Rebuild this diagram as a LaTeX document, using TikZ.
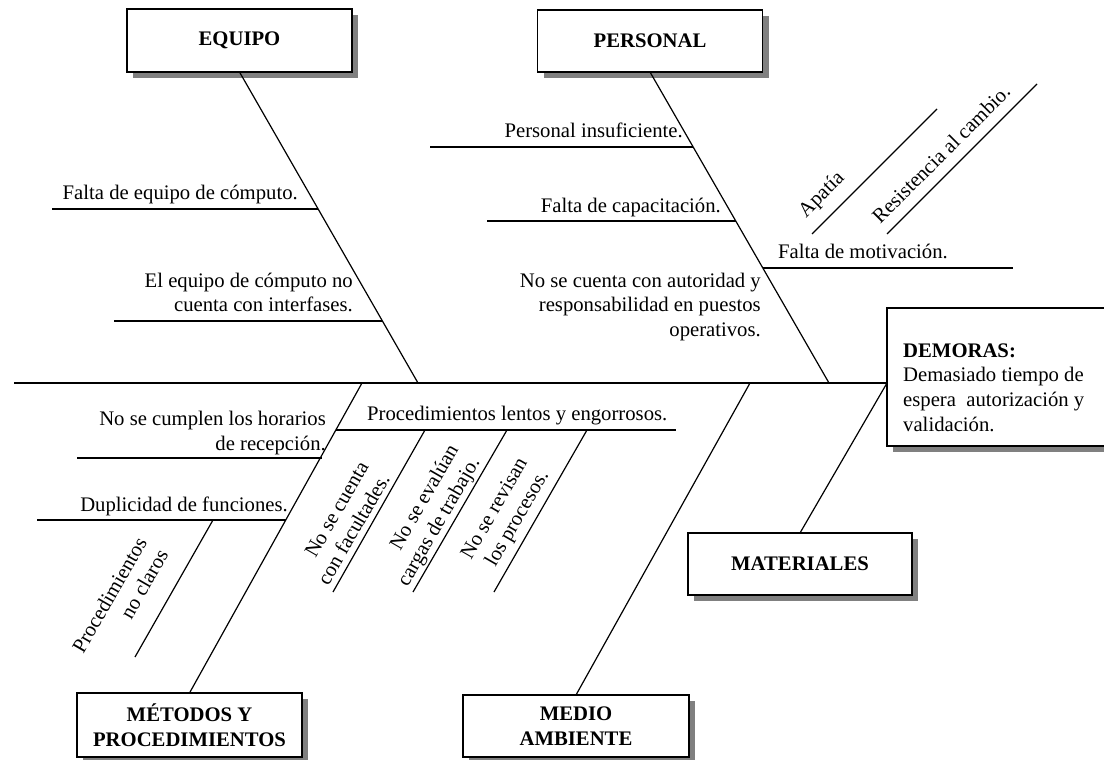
\documentclass[tikz,border=0pt]{standalone}
\usepackage{fontspec}
\setmainfont{Liberation Serif}
\usetikzlibrary{shadows}
\begin{document}
\begin{tikzpicture}[x=1pt,y=-1pt,
  font=\fontsize{20.7}{24.6}\selectfont,
  bone/.style={line width=1.2pt},
  spine/.style={line width=1.6pt},
  catbox/.style={draw, line width=1.5pt, fill=white, minimum width=225,
    outer sep=0pt, inner sep=0pt, font=\fontsize{20.7}{24.6}\selectfont\bfseries,
    align=center,
    general shadow={fill=black!50, shadow xshift=6pt, shadow yshift=-6pt}},
  effectbox/.style={draw, line width=1.5pt, fill=white, anchor=north west,
    minimum width=232, minimum height=138, outer sep=0pt, inner sep=0pt,
    general shadow={fill=black!50, shadow xshift=6pt, shadow yshift=-6pt}},
  cause/.style={inner sep=0pt}]

\useasboundingbox (0,0) rectangle (1104,760);
\clip (0,0) rectangle (1104,760);

% ---- category boxes ----
\node[catbox, minimum height=63] (equipo) at (239.5,40.5) {EQUIPO};
\node[catbox, minimum height=62] (personal) at (650,41) {PERSONAL};
\node[catbox, minimum height=62, minimum width=224] (materiales) at (800,564) {MATERIALES};
\node[catbox, minimum height=62, minimum width=226] (medio) at (576,726) {MEDIO\\AMBIENTE};
\node[catbox, minimum height=64] (metodos) at (189.5,725) {MÉTODOS Y\\PROCEDIMIENTOS};

% ---- effect box (the base anchor of a multi-line node is its last line) ----
\node[effectbox] (demoras) at (887,308) {};
\node[cause, anchor=base west, align=left] (efecto) at (903,431)
  {\textbf{DEMORAS:}\\Demasiado tiempo de\\espera\ \ autorización y\\validación.};

% ---- spine ----
\coordinate (tail) at (14,383);
\coordinate (head) at (tail -| demoras.west);
\draw[spine] (tail) -- (head);

% ---- main bones ----
\coordinate (jE) at (418,383);
\coordinate (jP) at (829,383);
\coordinate (jA) at (750,383);
\coordinate (jT) at (362,383);
\draw[bone] (equipo.south) -- (jE);
\draw[bone] (personal.south) -- (jP);
\draw[bone] (materiales.north) -- (head);
\draw[bone] (medio.north) -- (jA);
\draw[bone] (metodos.north) -- (jT);

% ---- EQUIPO causes ----
\coordinate (e1a) at (52,209);   \coordinate (e1b) at (318.1,209);
\coordinate (e2a) at (114,321);  \coordinate (e2b) at (382.4,321);
\draw[bone] (e1a) -- (e1b);
\draw[bone] (e2a) -- (e2b);
\node[cause, anchor=base east] (t1) at (298,199) {Falta de equipo de cómputo.};
\node[cause, anchor=east, align=right] (t2) at (353,292.5)
  {El equipo de cómputo no\\cuenta con interfases.};

% ---- PERSONAL causes ----
\coordinate (p1a) at (430,147);  \coordinate (p1b) at (693.2,147);
\coordinate (p2a) at (487,221);  \coordinate (p2b) at (735.8,221);
\coordinate (p3a) at (762.8,268); \coordinate (p3b) at (1013,268);
\draw[bone] (p1a) -- (p1b);
\draw[bone] (p2a) -- (p2b);
\draw[bone] (p3a) -- (p3b);
\coordinate (q1a) at (812,234);  \coordinate (q1b) at (937,109);
\coordinate (q2a) at (887,234);  \coordinate (q2b) at (1037,84);
\draw[bone] (q1a) -- (q1b);
\draw[bone] (q2a) -- (q2b);
\node[cause, anchor=base east] (t3) at (683,137) {Personal insuficiente.};
\node[cause, anchor=base east] (t4) at (721,212) {Falta de capacitación.};
\node[cause, anchor=base west] (t5) at (778,258) {Falta de motivación.};
\node[cause, anchor=east, align=right] (t6) at (761,307)
  {No se cuenta con autoridad y\\responsabilidad en puestos\\operativos.};
\node[cause, rotate=45] (t7) at (822,195) {Apatía};
\node[cause, rotate=45] (t8) at (941,154) {Resistencia al cambio.};

% ---- METODOS causes ----
\coordinate (m1a) at (77,458);    \coordinate (m1b) at (322,458);
\coordinate (m2a) at (37,520);    \coordinate (m2b) at (285.8,520);
\coordinate (m3a) at (335.8,430); \coordinate (m3b) at (676,430);
\draw[bone] (m1a) -- (m1b);
\draw[bone] (m2a) -- (m2b);
\draw[bone] (m3a) -- (m3b);
\coordinate (n0a) at (213,520); \coordinate (n0b) at (135,657);
\coordinate (n1a) at (425,430); \coordinate (n1b) at (333,592);
\coordinate (n2a) at (507,430); \coordinate (n2b) at (413,592);
\coordinate (n3a) at (587,430); \coordinate (n3b) at (494,592);
\draw[bone] (n0a) -- (n0b);
\draw[bone] (n1a) -- (n1b);
\draw[bone] (n2a) -- (n2b);
\draw[bone] (n3a) -- (n3b);
\node[cause, anchor=east, align=right] (t9) at (326,432.75)
  {No se cumplen los horarios\\de recepción.};
\node[cause, anchor=base east] (t10) at (288,511) {Duplicidad de funciones.};
\node[cause, rotate=60, align=right] (t11) at (120,601) {Procedimientos\\no claros};
\node[cause, anchor=base west] (t12) at (367,420) {Procedimientos lentos y engorrosos.};
\node[cause, rotate=60, align=right] (t13) at (343,523) {No se cuenta\\con facultades.};
\node[cause, rotate=60, align=right] (t14) at (429,516) {No se evalúan\\cargas de trabajo.};
\node[cause, rotate=60, align=right] (t15) at (506,515.5) {No se revisan\\los procesos.};

\end{tikzpicture}
\end{document}
